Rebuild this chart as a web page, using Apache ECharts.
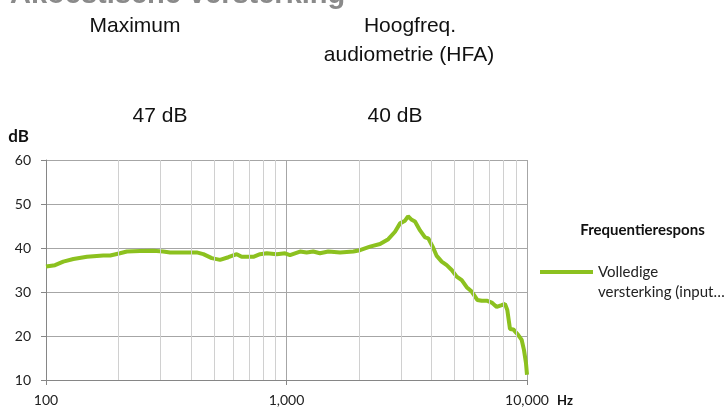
<!DOCTYPE html>
<html>
<head>
<meta charset="utf-8">
<script src="https://cdn.jsdelivr.net/npm/echarts@6/dist/echarts.min.js"></script>
<style>
html,body{margin:0;padding:0;background:#fff;}
#chart{width:727px;height:408px;}
</style>
</head>
<body>
<div id="chart"></div>
<script>
// ---- data ----
const seriesName = 'Volledige\nversterking (input\u2026';
const freqHz = [100,109,118,130,148,173,185,203,217,246,279,307,328,372,423,451,489,529,573,621,651,728,776,828,911,986,1034,1138,1213,1292,1378,1492,1670,1896,2021,2224,2448,2650,2826,2965,3110,3201,3316,3422,3591,3767,3888,4078,4213,4419,4636,4863,5102,5352,5614,5889,6213,6480,6837,7132,7482,7849,8100,8281,8497,8770,9200,9506,9716,9904,10000];
const gainDb = [35.8,36.1,36.9,37.5,38.0,38.3,38.3,38.8,39.2,39.3,39.4,39.2,39.0,39.0,39.0,38.6,37.7,37.3,37.9,38.6,38.0,38.0,38.6,38.8,38.6,38.8,38.4,39.2,39.0,39.2,38.8,39.2,39.0,39.2,39.5,40.3,40.9,42.0,43.7,45.6,46.2,47.2,46.4,46.0,44.0,42.4,42.2,40.0,38.2,36.9,36.1,35.0,33.5,32.7,31.1,30.1,28.2,28.0,28.0,27.6,26.6,27.0,27.3,25.9,21.6,21.5,20.2,19.1,16.8,13.8,11.2];
const minorFreqs = [200,300,400,500,600,700,800,900,2000,3000,4000,5000,6000,7000,8000,9000];
const xTickValues = [100,1000,10000];
const xTickLabels = ['100','1,000','10,000'];
const yMin = 10, yMax = 60, yStep = 10;
const headerTexts = ['Maximum','Hoogfreq.','audiometrie (HFA)'];
const valueTexts = ['47 dB','40 dB'];
const titleText = 'Akoestische versterking';
const legendTitle = 'Frequentierespons';

const points = freqHz.map((f,i)=>[f,gainDb[i]]);

const chart = echarts.init(document.getElementById('chart'), null, {renderer:'canvas'});
const arial = 'Liberation Sans, Arial, sans-serif';
const cal = 'Lato, sans-serif';

chart.setOption({
  animation:false,
  backgroundColor:'#ffffff',
  grid:{left:46,right:200,top:160,bottom:28,containLabel:false},
  xAxis:{
    type:'log',logBase:10,min:100,max:10000,
    axisLine:{show:true,lineStyle:{color:'#868686',width:1}},
    axisTick:{show:true,length:5,inside:false,lineStyle:{color:'#868686'}},
    splitLine:{show:true,lineStyle:{color:'#a6a6a6',width:1}},
    minorTick:{show:false},
    axisLabel:{margin:13,color:'#222',fontFamily:cal,fontSize:14,
      formatter:v=>{const i=xTickValues.indexOf(Math.round(v));return i>=0?xTickLabels[i]:'';}}
  },
  yAxis:{
    type:'value',min:yMin,max:yMax,interval:yStep,
    axisLine:{show:true,lineStyle:{color:'#868686',width:1}},
    axisTick:{show:true,length:5,inside:false,lineStyle:{color:'#868686'}},
    splitLine:{show:true,lineStyle:{color:'#a6a6a6',width:1}},
    axisLabel:{margin:15,color:'#222',fontFamily:cal,fontSize:14}
  },
  legend:{
    data:[seriesName],
    left:540,top:242,orient:'vertical',padding:0,
    icon:'rect',itemWidth:53,itemHeight:4,itemGap:0,
    formatter:name=>'\n'+name,
    textStyle:{fontFamily:cal,fontSize:15,color:'#222',lineHeight:20}
  },
  graphic:[
    {type:'text',x:10,y:9,style:{text:titleText,font:'bold 29px '+arial,fill:'#8a8a8a',verticalAlign:'bottom',align:'left'}},
    {type:'text',x:135,y:26,style:{text:headerTexts[0],font:'21px '+arial,fill:'#111',align:'center',verticalAlign:'middle'}},
    {type:'text',x:410,y:26,style:{text:headerTexts[1],font:'21px '+arial,fill:'#111',align:'center',verticalAlign:'middle'}},
    {type:'text',x:409,y:55,style:{text:headerTexts[2],font:'21px '+arial,fill:'#111',align:'center',verticalAlign:'middle'}},
    {type:'text',x:160,y:116,style:{text:valueTexts[0],font:'21px '+arial,fill:'#111',align:'center',verticalAlign:'middle'}},
    {type:'text',x:395,y:116,style:{text:valueTexts[1],font:'21px '+arial,fill:'#111',align:'center',verticalAlign:'middle'}},
    {type:'text',x:18.5,y:137,style:{text:'dB',font:'bold 17px '+cal,fill:'#111',align:'center',verticalAlign:'middle'}},
    {type:'text',x:565,y:401,style:{text:'Hz',font:'bold 13px '+cal,fill:'#111',align:'center',verticalAlign:'middle'}},
    {type:'text',x:642.5,y:230,style:{text:legendTitle,font:'bold 15px '+cal,fill:'#111',align:'center',verticalAlign:'middle'}}
  ],
  series:[
    {
      name:'grid-minor',type:'line',data:points,showSymbol:false,silent:true,z:1,
      lineStyle:{opacity:0},
      markLine:{silent:true,symbol:['none','none'],label:{show:false},
        lineStyle:{color:'#d0d0d0',width:1,type:'solid'},
        data:minorFreqs.map(f=>({xAxis:f}))}
    },
    {
      name:seriesName,type:'line',data:points,showSymbol:false,symbol:'none',z:3,
      lineStyle:{color:'#8cc11f',width:4},itemStyle:{color:'#8cc11f'}
    }
  ]
});
</script>
</body>
</html>
